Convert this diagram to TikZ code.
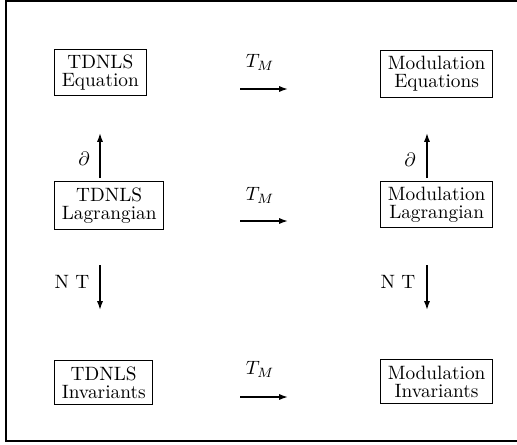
\documentclass[tikz,border=0pt]{standalone}
\usetikzlibrary{arrows.meta}
\begin{document}
\begin{tikzpicture}[x=0.518pt,y=-0.518pt,
  box/.style={draw,line width=0.5pt,align=center,inner xsep=3.8pt,inner ysep=3pt,anchor=west,
    font=\fontsize{10}{9.3}\selectfont},
  arr/.style={line width=0.8pt,-{Latex[length=4.6pt,width=3.2pt]}},
  lbl/.style={inner sep=0pt,font=\fontsize{10}{12}\selectfont}]
\useasboundingbox (0,0) rectangle (517,444);
\draw[line width=1pt] (517,1) -- (6,1) -- (6,441) -- (517,441);
% left column
\node[box] (eq) at (54,72.5) {TDNLS\\Equation};
\node[box] (lag) at (54,205.5) {TDNLS\\Lagrangian};
\node[box] (inv) at (54,382.5) {TDNLS\\Invariants};
% right column
\node[box] (meq) at (380,74) {Modulation\\Equations};
\node[box] (mlag) at (380,204.5) {Modulation\\Lagrangian};
\node[box] (minv) at (380,381.5) {Modulation\\Invariants};
% horizontal arrows
\foreach \n/\y in {1/89,2/221,3/397}{
  \coordinate (h\n s) at (240,\y);
  \coordinate (h\n e) at (288,\y);
  \draw[arr] (h\n s) -- (h\n e);
}
\node[lbl] (t1) at (260,62) {$T_M$};
\node[lbl] (t2) at (260,195) {$T_M$};
\node[lbl] (t3) at (260,369) {$T_M$};
% vertical arrows
\coordinate (ul1) at (100,178); \coordinate (ul2) at (100,133);
\coordinate (ur1) at (427,178); \coordinate (ur2) at (427,133);
\coordinate (dl1) at (100,265); \coordinate (dl2) at (100,310);
\coordinate (dr1) at (427,265); \coordinate (dr2) at (427,310);
\draw[arr] (ul1) -- (ul2);
\draw[arr] (ur1) -- (ur2);
\draw[arr] (dl1) -- (dl2);
\draw[arr] (dr1) -- (dr2);
\node[lbl] (d1) at (84,159) {$\partial$};
\node[lbl] (d2) at (410,160) {$\partial$};
\node[lbl] (n1) at (72,282) {N T};
\node[lbl] (n2) at (398,282) {N T};
\end{tikzpicture}
\end{document}
